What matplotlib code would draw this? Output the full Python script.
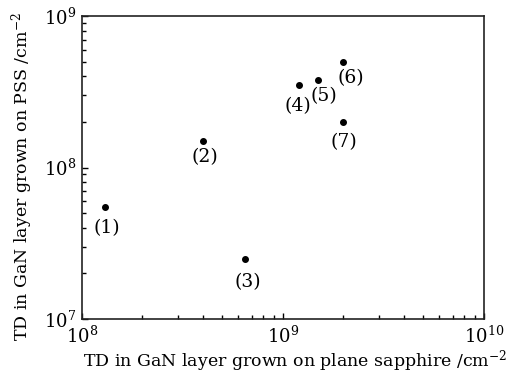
import matplotlib
matplotlib.use("Agg")
import matplotlib.pyplot as plt

# threading dislocation density: plane sapphire vs PSS
labels = ["(1)", "(2)", "(3)", "(4)", "(5)", "(6)", "(7)"]
td_plane = [1.3e8, 4.0e8, 6.5e8, 1.2e9, 1.5e9, 2.0e9, 2.0e9]
td_pss = [5.5e7, 1.5e8, 2.5e7, 3.5e8, 3.8e8, 5.0e8, 2.0e8]
# label offsets (points) below each dot
label_dx = [1.5, 1, 1.5, -0.5, 4, 5.5, 0.5]
label_dy = [-15, -12, -17, -15, -11.5, -11.5, -14.5]

plt.rcParams["font.family"] = "DejaVu Serif"
plt.rcParams["mathtext.fontset"] = "dejavuserif"

fig = plt.figure(figsize=(5.31, 3.74), dpi=100)
ax = fig.add_axes([0.1544, 0.147, 0.757, 0.81])

ax.plot(td_plane, td_pss, "o", color="black", markersize=4)
for lab, x, y, dx, dy in zip(labels, td_plane, td_pss, label_dx, label_dy):
    ax.annotate(lab, (x, y), xytext=(dx, dy), textcoords="offset points",
                ha="center", va="center", fontsize=13.5)

ax.set_xscale("log")
ax.set_yscale("log")
ax.set_xlim(1e8, 1e10)
ax.set_ylim(1e7, 1e9)

ax.tick_params(which="both", direction="in", top=False, right=False,
               labelsize=13)
ax.tick_params(axis="x", pad=5)
ax.tick_params(axis="y", pad=4)
ax.tick_params(which="major", length=4, width=1)
ax.tick_params(which="minor", length=3, width=1)
for s in ax.spines.values():
    s.set_linewidth(1.2)
    s.set_color("#222222")

ax.set_xlabel("TD in GaN layer grown on plane sapphire /cm$^{-2}$", fontsize=12.5)
ax.set_ylabel("TD in GaN layer grown on PSS /cm$^{-2}$", fontsize=12.5)
ax.xaxis.set_label_coords(0.529, -0.095)
ax.yaxis.set_label_coords(-0.118, 0.47)

fig.savefig("out.png", dpi=100)
